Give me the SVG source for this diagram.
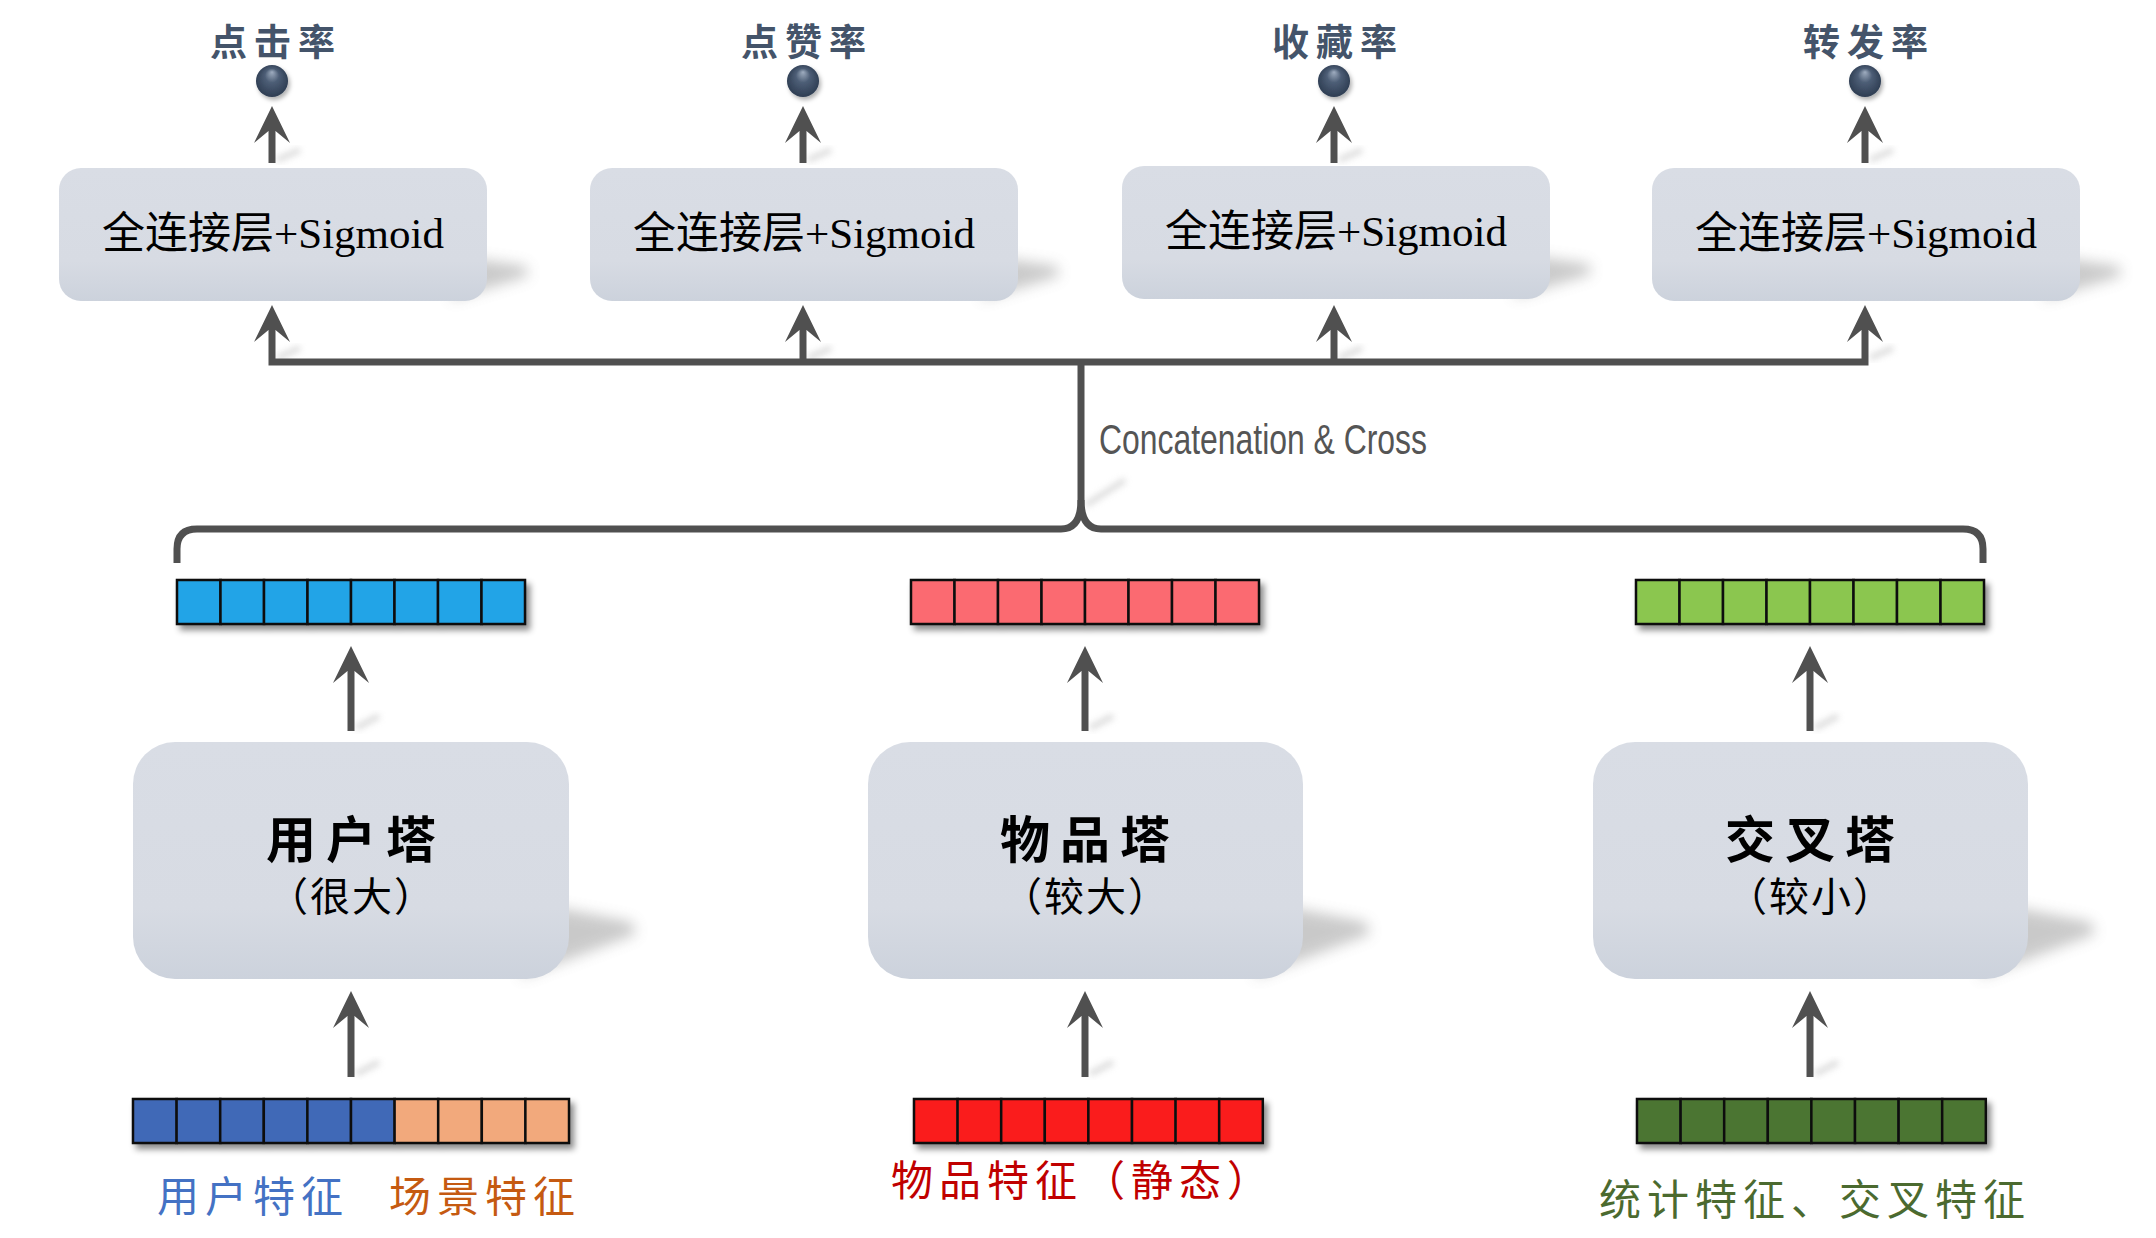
<svg xmlns="http://www.w3.org/2000/svg" width="2156" height="1238" viewBox="0 0 2156 1238">
<defs>
<style>
.box{fill:url(#boxg);}
.bsh{fill:#8a8a8a;opacity:0.45;filter:url(#blur7);}
.conn{fill:none;stroke:#505050;stroke-width:7;stroke-linejoin:miter;}
.arr{marker-end:url(#ah);}
.cell{stroke:#111;stroke-width:2.5;}
.bar{filter:url(#barsh);}
.ball{fill:url(#ball);filter:url(#ballsh);}
.olab{font-family:"Liberation Serif","Noto Sans CJK SC",serif;font-size:37px;font-weight:bold;fill:#44546a;text-anchor:middle;letter-spacing:7px;}
.fc{font-family:"Liberation Serif","Noto Sans CJK SC",serif;font-size:43px;fill:#000;text-anchor:middle;}
.tt{font-family:"Liberation Serif","Noto Sans CJK SC",serif;font-size:50px;font-weight:bold;fill:#000;text-anchor:middle;letter-spacing:10px;}
.ts{font-family:"Liberation Serif","Noto Sans CJK SC",serif;font-size:40px;fill:#000;text-anchor:middle;letter-spacing:2px;}
.fl{font-family:"Liberation Serif","Noto Sans CJK SC",serif;font-size:42px;text-anchor:middle;letter-spacing:6px;}
.ash{stroke:#c8c8c8;stroke-width:6;opacity:0.6;filter:url(#blur3);fill:none;}
</style>
<linearGradient id="boxg" x1="0" y1="0" x2="0" y2="1">
<stop offset="0" stop-color="#d9dde5"/>
<stop offset="0.7" stop-color="#d7dbe3"/>
<stop offset="1" stop-color="#ccd2dc"/>
</linearGradient>
<radialGradient id="ball" cx="0.5" cy="0.5" r="0.55" fx="0.5" fy="0.22">
<stop offset="0" stop-color="#9fadc0"/>
<stop offset="0.4" stop-color="#4d5e76"/>
<stop offset="1" stop-color="#2b3a4f"/>
</radialGradient>
<filter id="blur7" x="-50%" y="-50%" width="200%" height="200%"><feGaussianBlur stdDeviation="7"/></filter>
<filter id="blur5" x="-50%" y="-50%" width="200%" height="200%"><feGaussianBlur stdDeviation="5"/></filter>
<filter id="blur3" x="-50%" y="-50%" width="200%" height="200%"><feGaussianBlur stdDeviation="3"/></filter>
<filter id="barsh" x="-5%" y="-30%" width="115%" height="180%"><feDropShadow dx="4" dy="5" stdDeviation="3" flood-color="#000" flood-opacity="0.45"/></filter>
<filter id="ballsh" x="-50%" y="-50%" width="200%" height="200%"><feDropShadow dx="2" dy="3" stdDeviation="2" flood-color="#000" flood-opacity="0.3"/></filter>
<marker id="ah" markerUnits="userSpaceOnUse" markerWidth="80" markerHeight="80" refX="0" refY="0" orient="auto-start-reverse" overflow="visible">
<path d="M25,0 L-12,-18 L0,-3.5 L0,3.5 L-12,18 Z" fill="#505050"/>
</marker>
</defs>
<rect width="2156" height="1238" fill="#ffffff"/>

<!-- soft shadows -->
<g id="shadows">
<path class="bsh" d="M450,300 L528,276 L526,266 L470,258 Z"/>
<path class="bsh" d="M981,300 L1059,276 L1057,266 L1001,258 Z"/>
<path class="bsh" d="M1513,298 L1591,274 L1589,264 L1533,256 Z"/>
<path class="bsh" d="M2043,300 L2121,276 L2119,266 L2063,258 Z"/>
<path class="bsh" d="M520,978 L636,934 L632,922 L550,906 Z"/>
<path class="bsh" d="M1254,978 L1370,934 L1366,922 L1284,906 Z"/>
<path class="bsh" d="M1979,978 L2095,934 L2091,922 L2009,906 Z"/>
<path class="ash" d="M277,160 L300,150 M808,160 L831,150 M1339,160 L1362,150 M1870,160 L1893,150"/>
<path class="ash" d="M277,358 L300,348 M808,358 L831,348 M1339,358 L1362,348 M1870,358 L1893,348"/>
<path class="ash" d="M356,728 L379,716 M1090,728 L1113,716 M1815,728 L1838,716"/>
<path class="ash" d="M356,1074 L379,1062 M1090,1074 L1113,1062 M1815,1074 L1838,1062"/>
<path class="ash" d="M1086,505 L1125,480"/>
<path d="M180,550 H1980" stroke="#000" stroke-opacity="0.04" stroke-width="14" filter="url(#blur5)"/>
</g>

<!-- connectors -->
<g id="connectors">
<path class="conn arr" d="M272,163 V131"/>
<path class="conn arr" d="M803,163 V131"/>
<path class="conn arr" d="M1334,163 V131"/>
<path class="conn arr" d="M1865,163 V131"/>
<path class="conn" d="M272,330 V362 H1865 V330" marker-start="url(#ah)" marker-end="url(#ah)"/>
<path class="conn arr" d="M803,362 V330"/>
<path class="conn arr" d="M1334,362 V330"/>
<path class="conn" d="M1081,362 V500 Q1081,529 1061,529 H197 Q177,529 177,549 V563"/>
<path class="conn" d="M1081,500 Q1081,529 1101,529 H1963 Q1983,529 1983,549 V563"/>
<path class="conn arr" d="M351,731 V671"/>
<path class="conn arr" d="M1085,731 V671"/>
<path class="conn arr" d="M1810,731 V671"/>
<path class="conn arr" d="M351,1077 V1016"/>
<path class="conn arr" d="M1085,1077 V1016"/>
<path class="conn arr" d="M1810,1077 V1016"/>
<text x="1099" y="454" font-family="'Liberation Sans','DejaVu Sans',sans-serif" font-size="42" fill="#555555" textLength="328" lengthAdjust="spacingAndGlyphs">Concatenation &amp; Cross</text>
</g>

<!-- outputs -->
<g id="out-click">
<text class="olab" x="276" y="56">点击率</text>
<circle class="ball" cx="272" cy="81" r="16"/>
</g>
<g id="out-like">
<text class="olab" x="807" y="56">点赞率</text>
<circle class="ball" cx="803" cy="81" r="16"/>
</g>
<g id="out-fav">
<text class="olab" x="1338" y="56">收藏率</text>
<circle class="ball" cx="1334" cy="81" r="16"/>
</g>
<g id="out-share">
<text class="olab" x="1869" y="56">转发率</text>
<circle class="ball" cx="1865" cy="81" r="16"/>
</g>

<!-- heads -->
<g id="head-1">
<rect class="box" x="59" y="168" width="428" height="133" rx="22"/>
<text class="fc" x="273" y="248">全连接层+Sigmoid</text>
</g>
<g id="head-2">
<rect class="box" x="590" y="168" width="428" height="133" rx="22"/>
<text class="fc" x="804" y="248">全连接层+Sigmoid</text>
</g>
<g id="head-3">
<rect class="box" x="1122" y="166" width="428" height="133" rx="22"/>
<text class="fc" x="1336" y="246">全连接层+Sigmoid</text>
</g>
<g id="head-4">
<rect class="box" x="1652" y="168" width="428" height="133" rx="22"/>
<text class="fc" x="1866" y="248">全连接层+Sigmoid</text>
</g>

<!-- tower output vectors -->
<g id="vec-user" class="bar">
<rect class="cell" x="177" y="580" width="43.5" height="44" fill="#23a4e7"/>
<rect class="cell" x="220.5" y="580" width="43.5" height="44" fill="#23a4e7"/>
<rect class="cell" x="264" y="580" width="43.5" height="44" fill="#23a4e7"/>
<rect class="cell" x="307.5" y="580" width="43.5" height="44" fill="#23a4e7"/>
<rect class="cell" x="351" y="580" width="43.5" height="44" fill="#23a4e7"/>
<rect class="cell" x="394.5" y="580" width="43.5" height="44" fill="#23a4e7"/>
<rect class="cell" x="438" y="580" width="43.5" height="44" fill="#23a4e7"/>
<rect class="cell" x="481.5" y="580" width="43.5" height="44" fill="#23a4e7"/>
</g>
<g id="vec-item" class="bar">
<rect class="cell" x="911" y="580" width="43.5" height="44" fill="#fb6a71"/>
<rect class="cell" x="954.5" y="580" width="43.5" height="44" fill="#fb6a71"/>
<rect class="cell" x="998" y="580" width="43.5" height="44" fill="#fb6a71"/>
<rect class="cell" x="1041.5" y="580" width="43.5" height="44" fill="#fb6a71"/>
<rect class="cell" x="1085" y="580" width="43.5" height="44" fill="#fb6a71"/>
<rect class="cell" x="1128.5" y="580" width="43.5" height="44" fill="#fb6a71"/>
<rect class="cell" x="1172" y="580" width="43.5" height="44" fill="#fb6a71"/>
<rect class="cell" x="1215.5" y="580" width="43.5" height="44" fill="#fb6a71"/>
</g>
<g id="vec-cross" class="bar">
<rect class="cell" x="1636" y="580" width="43.5" height="44" fill="#8bc64f"/>
<rect class="cell" x="1679.5" y="580" width="43.5" height="44" fill="#8bc64f"/>
<rect class="cell" x="1723" y="580" width="43.5" height="44" fill="#8bc64f"/>
<rect class="cell" x="1766.5" y="580" width="43.5" height="44" fill="#8bc64f"/>
<rect class="cell" x="1810" y="580" width="43.5" height="44" fill="#8bc64f"/>
<rect class="cell" x="1853.5" y="580" width="43.5" height="44" fill="#8bc64f"/>
<rect class="cell" x="1897" y="580" width="43.5" height="44" fill="#8bc64f"/>
<rect class="cell" x="1940.5" y="580" width="43.5" height="44" fill="#8bc64f"/>
</g>

<!-- towers -->
<g id="tower-user">
<rect class="box" x="133" y="742" width="436" height="237" rx="42"/>
<text class="tt" x="356" y="858">用户塔</text>
<text class="ts" x="352" y="911">（很大）</text>
</g>
<g id="tower-item">
<rect class="box" x="868" y="742" width="435" height="237" rx="42"/>
<text class="tt" x="1090" y="858">物品塔</text>
<text class="ts" x="1086" y="911">（较大）</text>
</g>
<g id="tower-cross">
<rect class="box" x="1593" y="742" width="435" height="237" rx="42"/>
<text class="tt" x="1815" y="858">交叉塔</text>
<text class="ts" x="1811" y="911">（较小）</text>
</g>

<!-- input features -->
<g id="feat-user" class="bar">
<rect class="cell" x="133" y="1099" width="43.6" height="44" fill="#4169b7"/>
<rect class="cell" x="176.6" y="1099" width="43.6" height="44" fill="#4169b7"/>
<rect class="cell" x="220.2" y="1099" width="43.6" height="44" fill="#4169b7"/>
<rect class="cell" x="263.8" y="1099" width="43.6" height="44" fill="#4169b7"/>
<rect class="cell" x="307.4" y="1099" width="43.6" height="44" fill="#4169b7"/>
<rect class="cell" x="351" y="1099" width="43.6" height="44" fill="#4169b7"/>
<rect class="cell" x="394.6" y="1099" width="43.6" height="44" fill="#f2a97b"/>
<rect class="cell" x="438.2" y="1099" width="43.6" height="44" fill="#f2a97b"/>
<rect class="cell" x="481.8" y="1099" width="43.6" height="44" fill="#f2a97b"/>
<rect class="cell" x="525.4" y="1099" width="43.6" height="44" fill="#f2a97b"/>
</g>
<g id="feat-item" class="bar">
<rect class="cell" x="914" y="1099" width="43.6" height="44" fill="#fa1d1d"/>
<rect class="cell" x="957.6" y="1099" width="43.6" height="44" fill="#fa1d1d"/>
<rect class="cell" x="1001.2" y="1099" width="43.6" height="44" fill="#fa1d1d"/>
<rect class="cell" x="1044.8" y="1099" width="43.6" height="44" fill="#fa1d1d"/>
<rect class="cell" x="1088.4" y="1099" width="43.6" height="44" fill="#fa1d1d"/>
<rect class="cell" x="1132" y="1099" width="43.6" height="44" fill="#fa1d1d"/>
<rect class="cell" x="1175.6" y="1099" width="43.6" height="44" fill="#fa1d1d"/>
<rect class="cell" x="1219.2" y="1099" width="43.6" height="44" fill="#fa1d1d"/>
</g>
<g id="feat-cross" class="bar">
<rect class="cell" x="1637" y="1099" width="43.6" height="44" fill="#4b7533"/>
<rect class="cell" x="1680.6" y="1099" width="43.6" height="44" fill="#4b7533"/>
<rect class="cell" x="1724.2" y="1099" width="43.6" height="44" fill="#4b7533"/>
<rect class="cell" x="1767.8" y="1099" width="43.6" height="44" fill="#4b7533"/>
<rect class="cell" x="1811.4" y="1099" width="43.6" height="44" fill="#4b7533"/>
<rect class="cell" x="1855" y="1099" width="43.6" height="44" fill="#4b7533"/>
<rect class="cell" x="1898.6" y="1099" width="43.6" height="44" fill="#4b7533"/>
<rect class="cell" x="1942.2" y="1099" width="43.6" height="44" fill="#4b7533"/>
</g>

<!-- feature labels -->
<g id="labels">
<text class="fl" x="253" y="1212" fill="#4472c4">用户特征</text>
<text class="fl" x="485" y="1212" fill="#c55a11">场景特征</text>
<text class="fl" x="1083" y="1196" fill="#c00000">物品特征（静态）</text>
<text class="fl" x="1815" y="1215" fill="#4b6a2f">统计特征、交叉特征</text>
</g>
</svg>
